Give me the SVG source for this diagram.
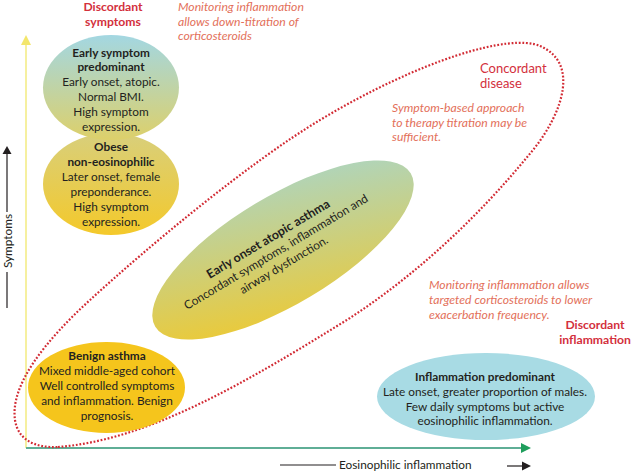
<svg xmlns="http://www.w3.org/2000/svg" width="632" height="473" viewBox="0 0 632 473">
<defs>
<linearGradient id="g1" x1="0" y1="0" x2="0" y2="1"><stop offset="0" stop-color="#a3d7e2"/><stop offset="1" stop-color="#ddd06a"/></linearGradient>
<linearGradient id="g2" x1="0" y1="0" x2="0" y2="1"><stop offset="0" stop-color="#d8cf7c"/><stop offset="1" stop-color="#f4c92a"/></linearGradient>
<linearGradient id="g3" x1="1" y1="0" x2="0" y2="1"><stop offset="0" stop-color="#a6d6d0"/><stop offset="1" stop-color="#f4c824"/></linearGradient>
</defs>
<style>
text{font-family:Lato,"Open Sans","DejaVu Sans",sans-serif;font-size:11.8px;fill:#231f20}
.b{font-weight:bold}
.c{text-anchor:middle}
.it{font-style:italic;fill:#e3705a;font-size:12.2px}
.red{fill:#d3303c;font-size:12.2px}
.ax{stroke:#231f20;stroke-width:1.2;fill:none}
</style>

<g id="connectors">
<line x1="26" y1="448" x2="26" y2="44" stroke="#f6f0a0" stroke-width="2"/>
<polygon points="26,35 21,45 31,45" fill="#f3e66c"/>
<line x1="26" y1="448" x2="522" y2="448" stroke="#5fae96" stroke-width="2"/>
<polygon points="531,448 521,443 521,453" fill="#1f9e5c"/>
<path d="M58,447 C150,440 250,380 350,318 C420,272 480,215 533,150 C565,110 578,62 540,46 C510,33 420,60 320,120 C250,162 150,245 90,300 C45,341 10,385 15,420 C18,440 35,448 58,447 Z" fill="none" stroke="#d22a33" stroke-width="2.2" stroke-dasharray="1.8 1.8"/>
</g>

<g id="axis-labels">
<line class="ax" x1="7" y1="153" x2="7" y2="212"/>
<polygon points="7,146 2.5,154 11.5,154" fill="#231f20"/>
<line class="ax" x1="7" y1="272" x2="7" y2="308"/>
<text class="c" transform="translate(12,241) rotate(-90)">Symptoms</text>
<line class="ax" x1="280" y1="465" x2="336" y2="465"/>
<text x="339" y="469">Eosinophilic inflammation</text>
<line class="ax" x1="507" y1="466" x2="523" y2="466"/>
<polygon points="531,466 522,461.5 522,470.5" fill="#231f20"/>
</g>

<g id="obese">
<ellipse cx="111" cy="184" rx="68" ry="51" fill="url(#g2)"/>
<text class="c b" x="111" y="151">Obese</text>
<text class="c b" x="111" y="166">non-eosinophilic</text>
<text class="c" x="111" y="181">Later onset, female</text>
<text class="c" x="111" y="196">preponderance.</text>
<text class="c" x="111" y="211">High symptom</text>
<text class="c" x="111" y="226">expression.</text>
</g>

<g id="early-symptom">
<ellipse cx="111" cy="87.5" rx="68" ry="52.5" fill="url(#g1)"/>
<text class="c b" x="111" y="57">Early symptom</text>
<text class="c b" x="111" y="71">predominant</text>
<text class="c" x="111" y="86">Early onset, atopic.</text>
<text class="c" x="111" y="101">Normal BMI.</text>
<text class="c" x="111" y="116">High symptom</text>
<text class="c" x="111" y="131">expression.</text>
</g>

<g id="discordant-symptoms">
<text class="c b red" x="113" y="11">Discordant</text>
<text class="c b red" x="113" y="26">symptoms</text>
</g>

<g id="note-top">
<text class="it" x="178" y="11">Monitoring inflammation</text>
<text class="it" x="178" y="26">allows down-titration of</text>
<text class="it" x="178" y="40">corticosteroids</text>
</g>

<g id="concordant">
<text class="red" x="480" y="73" style="font-size:13px">Concordant</text>
<text class="red" x="480" y="88" style="font-size:13px">disease</text>
</g>

<g id="note-concordant">
<text class="it" x="392" y="112">Symptom-based approach</text>
<text class="it" x="392" y="127">to therapy titration may be</text>
<text class="it" x="392" y="141">sufficient.</text>
</g>

<g id="early-onset-atopic">
<ellipse cx="283" cy="250" rx="149" ry="54" transform="rotate(-31 283 250)" fill="url(#g3)"/>
<g transform="rotate(-31 276 252)">
<text class="c b" x="276" y="241" style="font-size:12.4px">Early onset atopic asthma</text>
<text class="c" x="276" y="256">Concordant symptoms, inflammation and</text>
<text class="c" x="276" y="271">airway dysfunction.</text>
</g>
</g>

<g id="benign">
<ellipse cx="106.5" cy="387.5" rx="78.5" ry="45.5" fill="#f5c51c"/>
<text class="c b" x="107" y="360">Benign asthma</text>
<text class="c" x="107" y="375">Mixed middle-aged cohort</text>
<text class="c" x="107" y="390">Well controlled symptoms</text>
<text class="c" x="107" y="405">and inflammation. Benign</text>
<text class="c" x="107" y="420">prognosis.</text>
</g>

<g id="inflammation-predominant">
<ellipse cx="486" cy="396.5" rx="109" ry="43.5" fill="#a8dbe4"/>
<text class="c b" x="485" y="381">Inflammation predominant</text>
<text class="c" x="485" y="396">Late onset, greater proportion of males.</text>
<text class="c" x="485" y="411">Few daily symptoms but active</text>
<text class="c" x="485" y="425">eosinophilic inflammation.</text>
</g>

<g id="note-inflammation">
<text class="it" x="429" y="289">Monitoring inflammation allows</text>
<text class="it" x="429" y="304">targeted corticosteroids to lower</text>
<text class="it" x="429" y="319">exacerbation frequency.</text>
</g>

<g id="discordant-inflammation">
<text class="c b red" x="595" y="329">Discordant</text>
<text class="c b red" x="595" y="344">inflammation</text>
</g>
</svg>
